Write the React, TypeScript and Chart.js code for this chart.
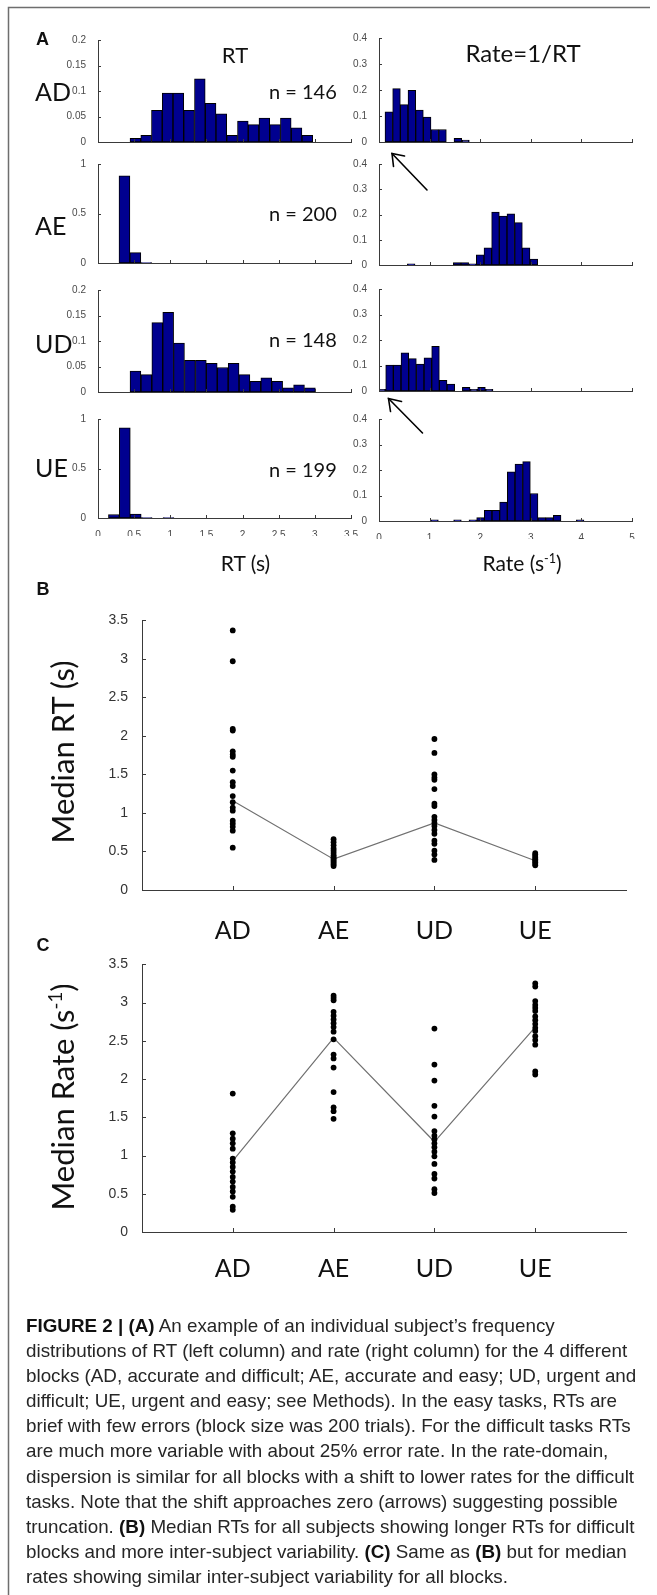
import React, { useEffect, useRef } from 'react';
import { Chart, registerables } from 'chart.js';

Chart.register(...registerables);

// ---------------- data ----------------
const blocks = ['AD', 'AE', 'UD', 'UE'];
const trialCounts = [146, 200, 148, 199];

// RT axis (s) and rate axis (1/s)
const rtAxisMax = 3.5;
const rtAxisStep = 0.5;
const rateAxisMax = 5;
const rateAxisStep = 1;

// y-axis ranges of the frequency histograms
const rtFreqAxisMax = [0.2, 1, 0.2, 1];
const rtFreqAxisStep = [0.05, 0.5, 0.05, 0.5];
const rateFreqAxisMax = [0.4, 0.4, 0.4, 0.4];
const rateFreqAxisStep = [0.1, 0.1, 0.1, 0.1];

// RT histograms: bin centres (s) and relative frequency
const rtBinsAD = [0.517, 0.666, 0.814, 0.963, 1.112, 1.260, 1.409, 1.558, 1.706, 1.855, 2.004, 2.152, 2.301, 2.450, 2.598, 2.747, 2.896];
const rtFreqAD = [0.007, 0.013, 0.062, 0.096, 0.096, 0.062, 0.124, 0.076, 0.055, 0.013, 0.041, 0.034, 0.047, 0.034, 0.047, 0.028, 0.013];
const rtBinsAE = [0.366, 0.517, 0.668];
const rtFreqAE = [0.88, 0.105, 0.005];
const rtBinsUD = [0.518, 0.669, 0.820, 0.971, 1.121, 1.272, 1.423, 1.574, 1.725, 1.876, 2.026, 2.177, 2.328, 2.479, 2.630, 2.781, 2.932];
const rtFreqUD = [0.041, 0.034, 0.136, 0.156, 0.096, 0.062, 0.062, 0.056, 0.048, 0.056, 0.034, 0.021, 0.028, 0.021, 0.008, 0.014, 0.008];
const rtBinsUE = [0.220, 0.371, 0.522, 0.673, 0.824, 0.975];
const rtFreqUE = [0.035, 0.91, 0.04, 0.005, null, 0.005];

// Rate histograms: bin centres (1/s) and relative frequency
const rateBinsAD = [0.194, 0.346, 0.497, 0.649, 0.800, 0.952, 1.103, 1.255, 1.406, 1.558, 1.709];
const rateFreqAD = [0.116, 0.205, 0.144, 0.199, 0.123, 0.096, 0.048, 0.048, null, 0.014, 0.007];
const rateBinsAE = [0.636, 1.545, 1.696, 1.848, 1.999, 2.151, 2.302, 2.454, 2.605, 2.757, 2.908, 3.060];
const rateFreqAE = [0.005, 0.01, 0.01, 0.005, 0.04, 0.068, 0.21, 0.194, 0.203, 0.168, 0.068, 0.023];
const rateBinsUD = [0.056, 0.208, 0.359, 0.511, 0.662, 0.814, 0.965, 1.117, 1.268, 1.420, 1.571, 1.723, 1.874, 2.026, 2.177];
const rateFreqUD = [0.007, 0.102, 0.102, 0.15, 0.127, 0.106, 0.13, 0.175, 0.042, 0.027, null, 0.014, 0.007, 0.014, 0.007];
const rateBinsUE = [1.097, 1.551, 1.854, 2.006, 2.157, 2.309, 2.460, 2.612, 2.763, 2.915, 3.066, 3.218, 3.369, 3.521, 3.975];
const rateFreqUE = [0.005, 0.005, 0.005, 0.013, 0.042, 0.042, 0.074, 0.193, 0.223, 0.233, 0.108, 0.013, 0.013, 0.022, 0.005];

// Panel B: median RT (s) per subject
const medRtAD = [3.37, 2.97, 2.09, 2.07, 1.80, 1.76, 1.73, 1.55, 1.40, 1.35, 1.22, 1.14, 1.07, 1.03, 0.90, 0.86, 0.82, 0.77, 0.55];
const medRtAE = [0.66, 0.62, 0.58, 0.54, 0.51, 0.48, 0.45, 0.43, 0.41, 0.39, 0.37, 0.35, 0.33, 0.31];
const medRtUD = [1.96, 1.78, 1.50, 1.46, 1.43, 1.31, 1.12, 1.09, 0.95, 0.91, 0.87, 0.83, 0.78, 0.73, 0.64, 0.60, 0.51, 0.46, 0.39];
const medRtUE = [0.48, 0.46, 0.44, 0.42, 0.40, 0.38, 0.36, 0.34, 0.32];
const medRtLine = [1.16, 0.40, 0.87, 0.38];

// Panel C: median rate (1/s) per subject
const medRateAD = [1.81, 1.29, 1.22, 1.16, 1.09, 0.96, 0.91, 0.85, 0.79, 0.72, 0.66, 0.59, 0.53, 0.46, 0.33, 0.29];
const medRateAE = [3.09, 3.06, 3.03, 2.88, 2.83, 2.78, 2.73, 2.68, 2.62, 2.52, 2.32, 2.27, 2.15, 1.83, 1.63, 1.58, 1.48];
const medRateUD = [2.66, 2.19, 1.98, 1.65, 1.51, 1.32, 1.26, 1.21, 1.16, 1.11, 1.05, 0.99, 0.89, 0.76, 0.70, 0.56, 0.51];
const medRateUE = [3.25, 3.21, 3.02, 2.97, 2.93, 2.89, 2.82, 2.77, 2.72, 2.67, 2.63, 2.56, 2.51, 2.45, 2.10, 2.06];
const medRateLine = [0.93, 2.54, 1.18, 2.68];

const medianAxisMax = 3.5;
const medianAxisStep = 0.5;

const captionLines = [
  [['FIGURE 2 | (A)', true], [' An example of an individual subject\u2019s frequency', false]],
  [['distributions of RT (left column) and rate (right column) for the 4 different', false]],
  [['blocks (AD, accurate and difficult; AE, accurate and easy; UD, urgent and', false]],
  [['difficult; UE, urgent and easy; see Methods). In the easy tasks, RTs are', false]],
  [['brief with few errors (block size was 200 trials). For the difficult tasks RTs', false]],
  [['are much more variable with about 25% error rate. In the rate-domain,', false]],
  [['dispersion is similar for all blocks with a shift to lower rates for the difficult', false]],
  [['tasks. Note that the shift approaches zero (arrows) suggesting possible', false]],
  [['truncation. ', false], ['(B)', true], [' Median RTs for all subjects showing longer RTs for difficult', false]],
  [['blocks and more inter-subject variability. ', false], ['(C)', true], [' Same as ', false], ['(B)', true], [' but for median', false]],
  [['rates showing similar inter-subject variability for all blocks.', false]],
] as [string, boolean][][];

// ---------------- styles / layout ----------------
const LATO = "Lato, 'Open Sans', sans-serif";
const ARIAL = "'Liberation Sans', Arial, sans-serif";
const BAR_FILL = '#00008F';
const BAR_EDGE = '#000000';
const AXIS = '#3a3a3a';
const TICK = '#4a4a4a';

const LEFT_COL = { left: 98, right: 351 };
const RIGHT_COL = { left: 379, right: 632 };
const ROWS_L = [[38, 142], [162, 263], [288, 392], [417, 518]];
const ROWS_R = [[36, 142], [162, 265], [287, 391], [417, 521]];

const fmtTick = (v: any) => String(Number(Number(v).toFixed(3)));

const inwardTicks = {
  id: 'inwardTicks',
  afterDatasetsDraw(chart: any, _args: any, opts: any) {
    const { ctx, chartArea } = chart;
    const len = opts.length ?? 3;
    const xs = chart.scales.x;
    const ys = chart.scales.y;
    ctx.save();
    ctx.strokeStyle = opts.color ?? AXIS;
    ctx.lineWidth = 1;
    ctx.beginPath();
    xs.ticks.forEach((t: any) => {
      const px = Math.round(xs.getPixelForValue(t.value)) + 0.5;
      ctx.moveTo(px, chartArea.bottom);
      ctx.lineTo(px, chartArea.bottom - len);
    });
    ys.ticks.forEach((t: any) => {
      const py = Math.round(ys.getPixelForValue(t.value)) + 0.5;
      ctx.moveTo(chartArea.left, py);
      ctx.lineTo(chartArea.left + len, py);
    });
    ctx.stroke();
    ctx.restore();
  },
};

type Box = { x: number; y: number; w: number; h: number };

function ChartCanvas({ box, make }: { box: Box; make: () => any }) {
  const ref = useRef<HTMLCanvasElement>(null);
  useEffect(() => {
    const chart = new Chart(ref.current as HTMLCanvasElement, make());
    return () => chart.destroy();
  }, []);
  return (
    <canvas
      ref={ref}
      width={box.w}
      height={box.h}
      style={{ position: 'absolute', left: box.x, top: box.y, width: box.w, height: box.h }}
    />
  );
}

const H_YAXIS = 40, H_PADTOP = 8, H_PADRIGHT = 12;

function histBox(col: { left: number; right: number }, row: number[], labeled: boolean): Box {
  const xAxisH = labeled ? 18 : 4;
  const padBottom = labeled ? 0 : 6;
  return {
    x: col.left - H_YAXIS,
    y: row[0] - H_PADTOP,
    w: col.right - col.left + H_YAXIS + H_PADRIGHT,
    h: row[1] - row[0] + H_PADTOP + xAxisH + padBottom,
  };
}

function histConfig(bins: number[], freq: (number | null)[], xMax: number, xStep: number, yMax: number, yStep: number, labeled: boolean) {
  const xAxisH = labeled ? 18 : 4;
  const padBottom = labeled ? 0 : 6;
  return {
    type: 'bar',
    data: {
      datasets: [{
        data: bins.map((x, i) => ({ x, y: freq[i] })),
        backgroundColor: BAR_FILL,
        borderColor: BAR_EDGE,
        borderWidth: 1,
        borderSkipped: false,
        barPercentage: 1,
        categoryPercentage: 1,
        clip: 0,
      }],
    },
    options: {
      animation: false,
      responsive: false,
      events: [],
      layout: { padding: { top: H_PADTOP, right: H_PADRIGHT, bottom: padBottom, left: 0 } },
      plugins: { legend: { display: false }, tooltip: { enabled: false }, inwardTicks: { length: 3, color: AXIS } },
      scales: {
        x: {
          type: 'linear', min: 0, max: xMax, offset: false,
          grid: { display: false, offset: false },
          border: { display: true, color: AXIS, width: 1 },
          ticks: { display: labeled, stepSize: xStep, autoSkip: false, maxRotation: 0, font: { family: ARIAL, size: 10 }, color: TICK, padding: 3, callback: fmtTick },
          afterFit: (s: any) => { s.height = xAxisH; },
        },
        y: {
          type: 'linear', min: 0, max: yMax,
          grid: { display: false },
          border: { display: true, color: AXIS, width: 1 },
          ticks: { stepSize: yStep, font: { family: ARIAL, size: 10 }, color: TICK, padding: 4, callback: fmtTick },
          afterFit: (s: any) => { s.width = H_YAXIS; },
        },
      },
    },
    plugins: [inwardTicks],
  };
}

const M_LEFT = 142, M_RIGHT = 626, M_YAXIS = 40, M_PADTOP = 12, M_PADRIGHT = 12, M_XAXIS = 52;

function medianBox(top: number, bottom: number): Box {
  return { x: M_LEFT - M_YAXIS, y: top - M_PADTOP, w: M_RIGHT - M_LEFT + M_YAXIS + M_PADRIGHT, h: bottom - top + M_PADTOP + M_XAXIS };
}

function medianConfig(groups: number[][], line: number[], labelPad: number) {
  const dots = groups.flatMap((vals, i) => vals.map((v) => ({ x: i + 1, y: v })));
  return {
    type: 'scatter',
    data: {
      datasets: [
        { data: line.map((v, i) => ({ x: i + 1, y: v })), showLine: true, borderColor: '#707070', borderWidth: 1.2, pointRadius: 0, order: 2 },
        { data: dots, pointRadius: 2.9, pointBackgroundColor: '#000', pointBorderWidth: 0, order: 1 },
      ],
    },
    options: {
      animation: false,
      responsive: false,
      events: [],
      layout: { padding: { top: M_PADTOP, right: M_PADRIGHT, bottom: 0, left: 0 } },
      plugins: { legend: { display: false }, tooltip: { enabled: false }, inwardTicks: { length: 4, color: AXIS } },
      scales: {
        x: {
          type: 'linear', min: 0.1, max: 4.9,
          grid: { display: false },
          border: { display: true, color: AXIS, width: 1 },
          afterBuildTicks: (s: any) => { s.ticks = blocks.map((_, i) => ({ value: i + 1 })); },
          ticks: {
            autoSkip: false, maxRotation: 0, padding: labelPad,
            font: { family: LATO, size: 25 }, color: '#111',
            callback: (v: any) => blocks[Math.round(Number(v)) - 1] ?? '',
          },
          afterFit: (s: any) => { s.height = M_XAXIS; },
        },
        y: {
          type: 'linear', min: 0, max: medianAxisMax,
          grid: { display: false },
          border: { display: true, color: AXIS, width: 1 },
          ticks: { stepSize: medianAxisStep, font: { family: ARIAL, size: 14 }, color: '#333', padding: 6, callback: fmtTick },
          afterFit: (s: any) => { s.width = M_YAXIS; },
        },
      },
    },
    plugins: [inwardTicks],
  };
}

function Label({ x, y, size, children, bold = false, family = LATO, anchor = 'center', rotate = false, color = '#111' }: any) {
  const tx = anchor === 'left' ? '0' : '-50%';
  return (
    <div
      style={{
        position: 'absolute', left: x, top: y,
        transform: `translate(${tx}, -50%)${rotate ? ' rotate(-90deg)' : ''}`,
        fontFamily: family, fontSize: size, fontWeight: bold ? 700 : 400,
        lineHeight: 1, whiteSpace: 'nowrap', color,
      }}
    >
      {children}
    </div>
  );
}

export default function App() {
  const rtBins = [rtBinsAD, rtBinsAE, rtBinsUD, rtBinsUE];
  const rtFreq = [rtFreqAD, rtFreqAE, rtFreqUD, rtFreqUE];
  const rateBins = [rateBinsAD, rateBinsAE, rateBinsUD, rateBinsUE];
  const rateFreq = [rateFreqAD, rateFreqAE, rateFreqUD, rateFreqUE];
  const rowLabelY = [91, 225, 343, 467];
  const nLabelY = [91, 212.5, 338.5, 468.5];

  return (
    <div style={{ position: 'absolute', left: 0, top: 0, width: 657, height: 1595, background: '#fff', overflow: 'hidden' }}>
      {blocks.map((b, i) => (
        <ChartCanvas
          key={'rt' + b}
          box={histBox(LEFT_COL, ROWS_L[i], i === 3)}
          make={() => histConfig(rtBins[i], rtFreq[i], rtAxisMax, rtAxisStep, rtFreqAxisMax[i], rtFreqAxisStep[i], i === 3)}
        />
      ))}
      {blocks.map((b, i) => (
        <ChartCanvas
          key={'rate' + b}
          box={histBox(RIGHT_COL, ROWS_R[i], i === 3)}
          make={() => histConfig(rateBins[i], rateFreq[i], rateAxisMax, rateAxisStep, rateFreqAxisMax[i], rateFreqAxisStep[i], i === 3)}
        />
      ))}
      <ChartCanvas box={medianBox(618, 890)} make={() => medianConfig([medRtAD, medRtAE, medRtUD, medRtUE], medRtLine, 18)} />
      <ChartCanvas box={medianBox(962, 1232)} make={() => medianConfig([medRateAD, medRateAE, medRateUD, medRateUE], medRateLine, 14)} />

      <svg width={657} height={1595} style={{ position: 'absolute', left: 0, top: 0, pointerEvents: 'none' }}>
        <path d="M8.5 1595 L8.5 7.5 L650 7.5" fill="none" stroke="#6e6e6e" strokeWidth={1.5} />
        <g stroke="#000" strokeWidth={1.6} fill="none" strokeLinecap="round">
          <path d="M427 190 L392 153.5" />
          <path d="M404.5 156 L392 153.5 L393.5 166.5" />
          <path d="M422.5 433 L388.5 398.5" />
          <path d="M401.5 401.5 L388.5 398.5 L390.5 411.5" />
        </g>
      </svg>

      <Label x={42.5} y={38.5} size={18} bold family={ARIAL}>A</Label>
      <Label x={235} y={54.5} size={22}>RT</Label>
      <Label x={523} y={53} size={24}>Rate=1/RT</Label>
      {blocks.map((b, i) => (
        <Label key={'rl' + b} x={35} y={rowLabelY[i]} size={25} anchor="left">{b}</Label>
      ))}
      {trialCounts.map((n, i) => (
        <Label key={'n' + i} x={269} y={nLabelY[i]} size={20} anchor="left">n = {n}</Label>
      ))}
      <Label x={245.5} y={561.5} size={21}>RT (s)</Label>
      <Label x={522} y={561.5} size={21}>Rate (s<sup style={{ fontSize: '0.6em', verticalAlign: '0.6em' }}>-1</sup>)</Label>

      <Label x={43} y={588.5} size={18} bold family={ARIAL}>B</Label>
      <Label x={62} y={752} size={31} rotate>Median RT (s)</Label>
      <Label x={43} y={945} size={18} bold family={ARIAL}>C</Label>
      <Label x={62} y={1097} size={31} rotate>Median Rate (s<sup style={{ fontSize: '0.6em', verticalAlign: '0.6em' }}>-1</sup>)</Label>

      <div style={{ position: 'absolute', left: 26, top: 1313, fontFamily: ARIAL, fontSize: 19, lineHeight: '25.1px', color: '#262626', transform: 'scaleX(0.99)', transformOrigin: '0 0' }}>
        {captionLines.map((line, i) => (
          <div key={i} style={{ whiteSpace: 'nowrap' }}>
            {line.map(([t, b], j) => (
              <span key={j} style={{ fontWeight: b ? 700 : 400, color: b ? '#111' : undefined }}>{t}</span>
            ))}
          </div>
        ))}
      </div>
    </div>
  );
}
